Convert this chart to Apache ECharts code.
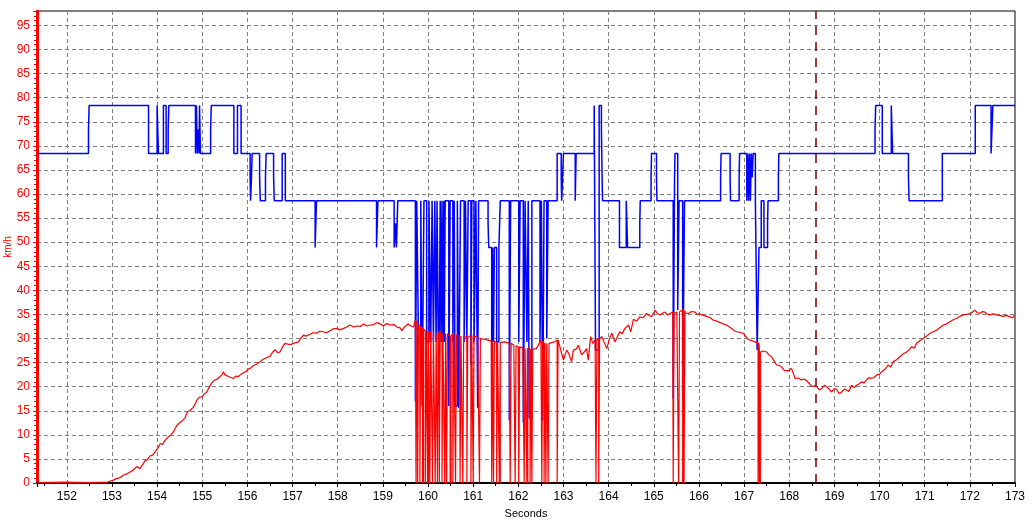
<!DOCTYPE html>
<html>
<head>
<meta charset="utf-8">
<title>km/h</title>
<script src="https://cdn.jsdelivr.net/npm/echarts@6/dist/echarts.min.js"></script>
<style>
  html, body { margin: 0; padding: 0; background: #fff; }
  #speedChart { width: 1034px; height: 521px; }
</style>
</head>
<body>
<div id="speedChart"></div>
<script>
// time window (seconds) and the cursor marker
const timeMin = 151.34;
const timeMax = 173;
const cursorTime = 168.58;

// blue trace: [time, value] change points, value holds until the next point
const blueSteps = [
  [151.34, 68.4], [152.48, 73.4], [152.495, 78.4], [153.81, 68.4], [154.0, 78.4], [154.03, 68.4],
  [154.14, 78.4], [154.2, 68.4], [154.245, 73.4], [154.26, 78.4], [154.85, 68.4], [154.87, 78.4],
  [154.89, 68.4], [154.91, 73.4], [154.93, 68.4], [154.94, 78.4], [154.96, 68.4], [155.185, 73.4],
  [155.2, 78.4], [155.7, 68.4], [155.78, 78.4], [155.86, 68.4], [156.06, 63.5], [156.07, 58.6],
  [156.09, 63.5], [156.105, 68.4], [156.27, 63.5], [156.285, 58.6], [156.4, 63.5], [156.415, 68.4],
  [156.58, 63.5], [156.595, 58.6], [156.77, 68.4], [156.84, 58.6], [157.5, 48.9], [157.53, 58.6],
  [158.86, 48.9], [158.89, 58.6], [159.25, 48.9], [159.28, 53.9], [159.3, 48.9], [159.33, 58.6],
  [159.72, 16.9], [159.75, 58.6], [159.79, 29.3], [159.84, 58.6], [159.87, 16], [159.91, 58.6],
  [159.97, 29.3], [160.02, 58.6], [160.06, 29.3], [160.09, 58.6], [160.12, 29.3], [160.15, 58.6],
  [160.18, 29.3], [160.2, 58.6], [160.24, 16], [160.27, 58.6], [160.29, 29.3], [160.31, 58.6],
  [160.33, 29.3], [160.35, 58.6], [160.36, 29.3], [160.38, 58.6], [160.46, 16], [160.49, 58.6],
  [160.55, 29.3], [160.58, 58.6], [160.6, 16], [160.65, 58.6], [160.68, 15.6], [160.72, 58.6],
  [160.8, 29.3], [160.83, 58.6], [160.86, 29.3], [160.89, 58.6], [160.95, 24.5], [160.97, 58.6],
  [161.02, 29.3], [161.06, 58.6], [161.1, 15.6], [161.12, 58.6], [161.33, 53.9], [161.345, 48.9],
  [161.41, 15.1], [161.43, 48.9], [161.45, 29.3], [161.47, 48.9], [161.52, 29.3], [161.57, 48.9],
  [161.6, 58.6], [161.8, 13], [161.83, 58.6], [162.01, 29.3], [162.04, 58.6], [162.11, 12.5],
  [162.15, 58.6], [162.19, 29.3], [162.22, 58.6], [162.24, 13.5], [162.3, 58.6], [162.48, 29.3],
  [162.51, 58.6], [162.54, 13], [162.57, 58.6], [162.63, 30], [162.66, 58.6], [162.86, 68.4],
  [162.95, 63.5], [162.96, 58.6], [163.0, 68.4], [163.26, 58.6], [163.28, 68.4], [163.68, 78.4],
  [163.71, 27.6], [163.79, 78.4], [163.84, 73.4], [163.855, 63.5], [163.865, 58.6], [164.24, 48.9],
  [164.39, 58.6], [164.42, 48.9], [164.69, 53.9], [164.7, 58.6], [164.94, 63.5], [164.95, 68.4],
  [165.06, 63.5], [165.07, 58.6], [165.43, 17.5], [165.46, 63.5], [165.47, 68.4], [165.53, 35.9],
  [165.56, 58.6], [165.64, 17.5], [165.68, 58.6], [166.48, 63.5], [166.49, 68.4], [166.69, 63.5],
  [166.7, 58.6], [166.89, 63.5], [166.9, 68.4], [167.06, 58.6], [167.08, 68.4], [167.1, 58.6],
  [167.12, 68.4], [167.14, 58.6], [167.16, 68.4], [167.18, 63.5], [167.2, 68.4], [167.25, 58.6],
  [167.29, 27.6], [167.33, 48.9], [167.38, 58.6], [167.44, 48.9], [167.52, 53.9], [167.53, 58.6],
  [167.76, 63.5], [167.77, 68.4], [169.9, 73.4], [169.915, 78.4], [170.06, 68.4], [170.26, 78.4],
  [170.29, 68.4], [170.64, 63.5], [170.655, 58.6], [171.39, 68.4], [172.12, 78.4], [172.47, 68.4],
  [172.51, 78.4], [173.0, 78.4]
];

// red trace: the speed curve
const redCurve = [
  [151.34, 0.1], [152.0, 0.2], [152.5, 0.1], [152.9, 0.2], [153.03, 0.6], [153.1, 0.9], [153.18, 1.1],
  [153.25, 1.6], [153.33, 1.9], [153.4, 2.3], [153.47, 2.7], [153.55, 3.4], [153.62, 3.0], [153.68, 3.8],
  [153.73, 4.6], [153.78, 4.8], [153.84, 5.6], [153.9, 5.8], [153.96, 6.5], [154.02, 7.3], [154.07, 8.2],
  [154.12, 8.0], [154.18, 8.9], [154.22, 9.3], [154.25, 9.6], [154.3, 9.9], [154.36, 10.6], [154.4, 11.3],
  [154.44, 12.0], [154.5, 12.5], [154.58, 13.1], [154.62, 13.6], [154.67, 14.8], [154.72, 15.0],
  [154.8, 15.7], [154.84, 16.4], [154.88, 17.2], [154.93, 17.8], [154.99, 17.9], [155.05, 18.5],
  [155.1, 18.9], [155.15, 19.8], [155.21, 20.8], [155.26, 21.3], [155.32, 21.5], [155.38, 22.0],
  [155.43, 22.4], [155.47, 23.1], [155.5, 22.5], [155.54, 22.3], [155.58, 22.1], [155.63, 21.9],
  [155.69, 21.7], [155.74, 22.2], [155.8, 22.1], [155.86, 22.6], [155.91, 22.9], [155.96, 23.1],
  [156.01, 23.6], [156.06, 23.8], [156.12, 24.3], [156.16, 24.2], [156.21, 24.7], [156.27, 25.1],
  [156.35, 25.7], [156.42, 26.0], [156.5, 26.3], [156.56, 27.2], [156.61, 27.7], [156.67, 27.0],
  [156.72, 27.2], [156.77, 28.1], [156.83, 29.0], [156.9, 28.8], [156.98, 28.8], [157.05, 29.1],
  [157.13, 29.3], [157.18, 30.0], [157.24, 30.7], [157.3, 30.5], [157.39, 30.9], [157.45, 31.2],
  [157.53, 31.1], [157.6, 31.5], [157.68, 31.4], [157.75, 31.2], [157.83, 31.6], [157.9, 32.0],
  [157.98, 32.1], [158.05, 31.8], [158.13, 32.1], [158.2, 32.4], [158.27, 32.8], [158.35, 32.4],
  [158.42, 32.6], [158.5, 32.5], [158.57, 33.0], [158.65, 32.6], [158.72, 32.8], [158.8, 32.9],
  [158.86, 33.3], [158.9, 33.7], [158.95, 33.0], [159.01, 32.6], [159.08, 33.1], [159.16, 32.8],
  [159.24, 32.9], [159.31, 32.4], [159.38, 32.2], [159.42, 31.6], [159.48, 32.4], [159.56, 33.0],
  [159.62, 32.6], [159.68, 32.4], [159.72, 33.8], [159.8, 33.2], [159.9, 32.0], [160.0, 31.6],
  [160.1, 31.3], [160.2, 31.0], [160.3, 31.4], [160.4, 31.0], [160.5, 30.6], [160.6, 30.8],
  [160.7, 30.4], [160.8, 30.6], [160.9, 30.2], [161.0, 30.5], [161.1, 30.2], [161.2, 30.1],
  [161.3, 29.7], [161.4, 29.5], [161.5, 29.3], [161.6, 29.0], [161.7, 29.3], [161.8, 29.0],
  [161.9, 28.6], [162.0, 28.3], [162.1, 28.0], [162.2, 27.9], [162.3, 27.6], [162.4, 27.9],
  [162.5, 29.7], [162.6, 29.0], [162.7, 28.8], [162.8, 29.3], [162.86, 29.7], [162.92, 29.7],
  [163.0, 25.5], [163.07, 27.6], [163.12, 26.8], [163.18, 25.2], [163.22, 27.6], [163.28, 27.8],
  [163.33, 28.6], [163.4, 26.6], [163.46, 27.2], [163.51, 27.9], [163.55, 25.5], [163.6, 30.4],
  [163.65, 29.0], [163.7, 29.7], [163.78, 29.5], [163.85, 30.4], [163.9, 29.2], [163.96, 27.9],
  [164.02, 30.0], [164.07, 31.1], [164.14, 29.3], [164.2, 30.5], [164.25, 31.4], [164.3, 31.0],
  [164.36, 32.1], [164.44, 32.8], [164.49, 31.4], [164.55, 34.0], [164.62, 33.6], [164.69, 34.5],
  [164.76, 34.3], [164.84, 35.2], [164.9, 34.8], [164.95, 34.5], [165.03, 35.9], [165.08, 35.2],
  [165.14, 34.9], [165.2, 35.3], [165.25, 35.5], [165.3, 34.9], [165.36, 35.2], [165.42, 35.5],
  [165.51, 35.5], [165.58, 35.7], [165.65, 36.2], [165.7, 35.3], [165.76, 35.2], [165.84, 35.6],
  [165.91, 35.5], [165.96, 35.0], [166.02, 35.1], [166.1, 34.8], [166.17, 34.6], [166.25, 34.3],
  [166.32, 33.8], [166.4, 33.6], [166.47, 33.3], [166.54, 33.0], [166.61, 32.8], [166.66, 32.5],
  [166.72, 32.1], [166.78, 31.6], [166.84, 31.4], [166.9, 31.3], [166.98, 31.1], [167.04, 30.4],
  [167.09, 29.8], [167.16, 29.6], [167.24, 29.3], [167.31, 29.1], [167.35, 27.2], [167.42, 27.4],
  [167.5, 27.2], [167.55, 26.6], [167.61, 26.2], [167.66, 25.4], [167.72, 24.5], [167.78, 24.4],
  [167.83, 24.1], [167.9, 23.3], [167.94, 23.1], [168.0, 23.4], [168.05, 23.8], [168.1, 22.5],
  [168.13, 21.7], [168.2, 21.8], [168.27, 21.4], [168.33, 21.6], [168.39, 21.2], [168.45, 20.6],
  [168.5, 20.0], [168.56, 20.2], [168.61, 20.0], [168.67, 19.3], [168.72, 19.6], [168.78, 20.3],
  [168.83, 20.0], [168.88, 19.5], [168.94, 18.9], [169.0, 19.6], [169.05, 19.4], [169.1, 18.6],
  [169.16, 18.9], [169.22, 19.5], [169.27, 19.3], [169.32, 19.0], [169.38, 20.3], [169.44, 19.8],
  [169.49, 20.3], [169.55, 20.6], [169.6, 21.0], [169.66, 20.8], [169.71, 21.4], [169.77, 21.9],
  [169.82, 21.7], [169.88, 21.9], [169.93, 22.4], [170.0, 22.6], [170.05, 23.1], [170.12, 23.6],
  [170.19, 24.5], [170.25, 24.1], [170.3, 25.2], [170.38, 25.6], [170.45, 26.2], [170.52, 26.8],
  [170.6, 27.2], [170.66, 27.7], [170.71, 28.3], [170.77, 28.0], [170.82, 29.0], [170.9, 29.6],
  [170.97, 30.0], [171.04, 30.5], [171.12, 31.1], [171.19, 31.4], [171.26, 31.7], [171.34, 32.3],
  [171.41, 32.8], [171.48, 33.0], [171.56, 33.5], [171.63, 33.9], [171.71, 34.2], [171.78, 34.6],
  [171.85, 34.9], [171.92, 35.0], [172.0, 35.2], [172.06, 35.5], [172.11, 35.9], [172.16, 35.4],
  [172.22, 35.2], [172.28, 35.6], [172.33, 35.5], [172.38, 35.1], [172.44, 34.9], [172.52, 35.1],
  [172.59, 34.9], [172.66, 34.8], [172.74, 34.6], [172.8, 34.8], [172.89, 34.5], [172.95, 34.3],
  [173.0, 34.9]
];

// red dropouts to zero: [time, value just before the drop]
const redDrops = [
  [159.735, 33.8], [159.77, 33], [159.82, 32.5], [159.88, 32], [159.94, 31.5], [159.99, 31.5],
  [160.04, 31.5], [160.10, 31.3], [160.16, 31], [160.21, 31], [160.25, 31.5], [160.31, 31],
  [160.37, 31], [160.41, 31], [160.49, 30.5], [160.55, 31], [160.61, 30.8], [160.71, 30.5],
  [160.77, 30.5], [160.86, 30.2], [160.95, 30.7], [161.0, 30.5], [161.14, 30], [161.41, 29.5],
  [161.45, 29.5], [161.52, 29], [161.58, 29.2], [161.82, 29], [161.93, 28.5], [162.01, 28.3],
  [162.13, 28], [162.19, 28], [162.26, 27.8], [162.3, 27.8], [162.52, 29.5], [162.57, 29],
  [162.61, 29], [162.66, 29], [162.86, 29.7], [163.72, 30], [163.78, 30], [165.43, 35.2],
  [165.55, 35.5], [165.64, 36], [165.67, 35.8], [167.31, 29], [167.34, 27.2]
];
const dropWidth = 0.02;

// merge the curve and the dropouts into one ordered point list
const buildRedData = () => {
  const pts = [];
  let seq = 0;
  redCurve.forEach(([t, v]) => pts.push({ t, v, seq: seq++ }));
  redDrops.forEach(([t, top]) => {
    pts.push({ t, v: top, seq: seq++ });
    pts.push({ t, v: 0, seq: seq++ });
    pts.push({ t: t + dropWidth, v: 0, seq: seq++ });
    pts.push({ t: t + dropWidth, v: top, seq: seq++ });
  });
  pts.sort((a, b) => a.t - b.t || a.seq - b.seq);
  return pts.map((p) => [p.t, p.v]);
};

const gridLine = { show: true, lineStyle: { color: "#808080", type: [4, 3], width: 1 } };

const option = {
  animation: false,
  backgroundColor: "#fff",
  grid: {
    left: 37,
    right: 19,
    top: 11,
    bottom: 38,
    outerBoundsMode: "none",
    show: true,
    borderColor: "#000",
    borderWidth: 1
  },
  xAxis: {
    type: "value",
    min: timeMin,
    max: timeMax,
    splitNumber: 22,
    name: "Seconds",
    nameLocation: "middle",
    nameGap: 25,
    nameTextStyle: { color: "#000", fontFamily: "Liberation Sans", fontSize: 11 },
    axisLine: { show: true, onZero: false, lineStyle: { color: "#000", width: 2 } },
    axisTick: { show: true, length: 4, lineStyle: { color: "#000" } },
    minorTick: { show: true, splitNumber: 2, length: 3, lineStyle: { color: "#000" } },
    axisLabel: {
      showMinLabel: false,
      color: "#000",
      fontFamily: "Liberation Sans",
      fontSize: 12,
      margin: 8
    },
    splitLine: gridLine
  },
  yAxis: {
    type: "value",
    min: 0,
    max: 98,
    interval: 5,
    name: "km/h",
    nameLocation: "middle",
    nameGap: 24,
    nameMoveOverlap: false,
    nameRotate: 90,
    nameTextStyle: { color: "#f00", fontFamily: "Liberation Sans", fontSize: 10 },
    axisLine: { show: true, lineStyle: { color: "#f00", width: 3 } },
    axisTick: { show: true, length: 4, lineStyle: { color: "#f00" } },
    minorTick: { show: true, splitNumber: 5, length: 3, lineStyle: { color: "#f00" } },
    axisLabel: {
      color: "#f00",
      fontFamily: "Liberation Sans",
      fontSize: 12,
      margin: 7,
      formatter: (v) => (v % 5 === 0 ? v : "")
    },
    splitLine: gridLine
  },
  series: [
    {
      name: "blue",
      type: "line",
      step: "end",
      symbol: "none",
      data: blueSteps,
      lineStyle: { color: "#0000ff", width: 1.5 }
    },
    {
      name: "red",
      type: "line",
      symbol: "none",
      data: buildRedData(),
      lineStyle: { color: "#ff0000", width: 1.2 },
      markLine: {
        silent: true,
        symbol: "none",
        label: { show: false },
        lineStyle: { color: "#800000", type: [9, 7], width: 1.5 },
        data: [{ xAxis: cursorTime }]
      }
    }
  ]
};

const speedChart = echarts.init(document.getElementById("speedChart"));
speedChart.setOption(option);
</script>
</body>
</html>
